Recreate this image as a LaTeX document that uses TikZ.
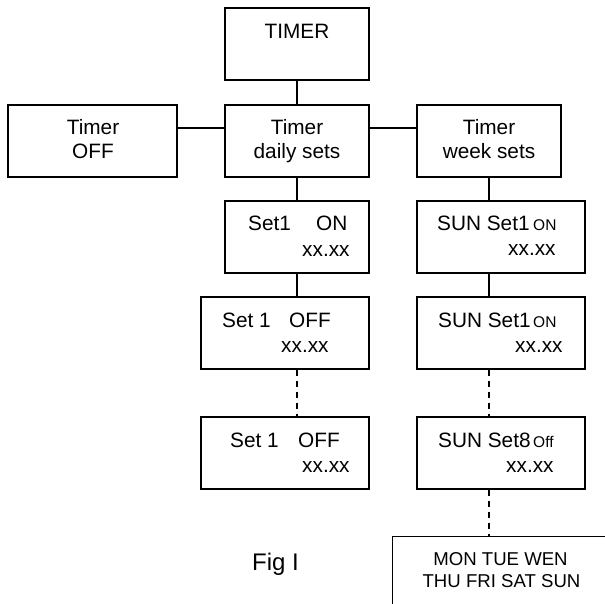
\documentclass[tikz,border=0pt]{standalone}
\usepackage{fontspec}
\setmainfont{Liberation Sans}
\begin{document}
\begin{tikzpicture}[x=1pt,y=-1pt,
  box/.style={draw,line width=1.2pt,rectangle,inner sep=0pt,minimum height=72pt},
  txt/.style={inner sep=0pt,font=\fontsize{20.8}{24}\selectfont},
  small/.style={inner sep=0pt,font=\fontsize{15.5}{18}\selectfont},
  daytxt/.style={inner sep=0pt,font=\fontsize{18.6}{22}\selectfont},
  figtxt/.style={inner sep=0pt,font=\fontsize{24}{28}\selectfont},
  conn/.style={line width=1.2pt},
  dconn/.style={line width=1.2pt,dash pattern=on 6pt off 5pt}]
\useasboundingbox (0,0) rectangle (605,604);
% boxes
\node[box,minimum width=144pt] (timer) at (297,44) {};
\node[box,minimum width=144pt] (daily) at (297,141) {};
\node[box,minimum width=169pt] (off) at (92.5,141) {};
\node[box,minimum width=144pt] (week) at (489,141) {};
\node[box,minimum width=144pt] (set1on) at (297,237) {};
\node[box,minimum width=168pt] (set1off) at (285,333) {};
\node[box,minimum width=168pt] (set1offb) at (285,453) {};
\node[box,minimum width=168pt] (sun1) at (501,237) {};
\node[box,minimum width=168pt] (sun1b) at (501,333) {};
\node[box,minimum width=168pt] (sun8) at (501,453) {};
\node[inner sep=0pt,minimum width=212pt,minimum height=67pt] (days) at (499,570.5) {};
\draw[conn] (days.south west) -- (days.north west) -- (days.north east);
% texts
\node[txt,anchor=base] (t1) at (297,39) {TIMER};
\node[txt,anchor=base] (t2) at (297,135) {Timer};
\node[txt,anchor=base] (t3) at (297,159) {daily sets};
\node[txt,anchor=base] (t4) at (93,135) {Timer};
\node[txt,anchor=base] (t5) at (93,159) {OFF};
\node[txt,anchor=base] (t6) at (489,135) {Timer};
\node[txt,anchor=base] (t7) at (489,159) {week sets};
\node[txt,anchor=base west] (t8) at (248,231) {Set1};
\node[txt,anchor=base west] (t9) at (316,231) {ON};
\node[txt,anchor=base west] (t10) at (302,256) {xx.xx};
\node[txt,anchor=base west] (t11) at (222,327) {Set 1};
\node[txt,anchor=base west] (t12) at (289,327) {OFF};
\node[txt,anchor=base west] (t13) at (281,352) {xx.xx};
\node[txt,anchor=base west] (t14) at (230,447) {Set 1};
\node[txt,anchor=base west] (t15) at (298,447) {OFF};
\node[txt,anchor=base west] (t16) at (302,472) {xx.xx};
\node[txt,anchor=base west] (t17) at (437,230) {SUN Set1};
\node[small,anchor=base west] (t18) at (533,230) {ON};
\node[txt,anchor=base west] (t19) at (508,255) {xx.xx};
\node[txt,anchor=base west] (t20) at (438,327) {SUN Set1};
\node[small,anchor=base west] (t21) at (533,327) {ON};
\node[txt,anchor=base west] (t22) at (515,352) {xx.xx};
\node[txt,anchor=base west] (t23) at (438,447) {SUN Set8};
\node[small,anchor=base west] (t24) at (533,447) {Off};
\node[txt,anchor=base west] (t25) at (506,472) {xx.xx};
\node[daytxt,anchor=base] (t26) at (500.5,565) {MON TUE WEN};
\node[daytxt,anchor=base] (t27) at (501.5,587) {THU FRI SAT SUN};
\node[figtxt,anchor=base west] (fig) at (252,570) {Fig I};
% connectors
\draw[conn] (timer.south) -- (daily.north);
\draw[conn] (daily.west |- 0,128) -- (off.east |- 0,128);
\draw[conn] (daily.east |- 0,128) -- (week.west |- 0,128);
\draw[conn] (daily.south) -- (set1on.north);
\draw[conn] (set1on.south) -- (set1on.south |- set1off.north);
\draw[dconn] (set1on.south |- set1off.south) -- (set1on.south |- set1offb.north);
\draw[conn] (week.south) -- (week.south |- sun1.north);
\draw[conn] (week.south |- sun1.south) -- (week.south |- sun1b.north);
\draw[dconn] (week.south |- sun1b.south) -- (week.south |- sun8.north);
\draw[dconn] (week.south |- sun8.south) -- (week.south |- days.north);
\end{tikzpicture}
\end{document}
